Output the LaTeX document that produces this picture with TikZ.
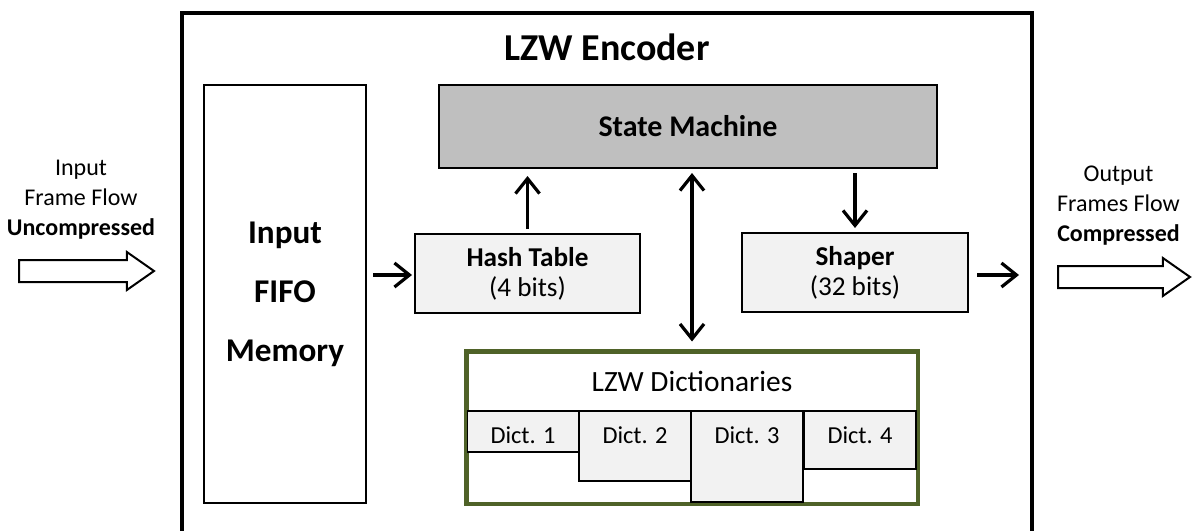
\documentclass[tikz,border=0pt]{standalone}
\usepackage{fontspec}
\setmainfont{Carlito}
\usetikzlibrary{arrows.meta,shapes.arrows}

\definecolor{smgray}{RGB}{191,191,191}
\definecolor{boxgray}{RGB}{242,242,242}
\definecolor{dictgreen}{RGB}{79,98,40}

\begin{document}
\begin{tikzpicture}[
        x=0.5pt, y=-0.5pt,
        block/.style={
            rectangle,
            draw,
            line width=1pt,
            align=center,
            inner sep=0pt
        },
        dictcell/.style={
            block,
            fill=boxgray,
            anchor=north,
            minimum width=56.25pt,
            text height=16pt,
            font=\fontsize{12.2}{14}\selectfont
        },
        flow/.style={
            -{Straight Barb[length=7.5pt,width=12pt]},
            line width=1.6pt
        },
        flowboth/.style={
            {Straight Barb[length=7.5pt,width=12pt]}-{Straight Barb[length=7.5pt,width=12pt]},
            line width=1.6pt
        },
        bigarrow/.style={
            single arrow,
            draw,
            line width=1pt,
            fill=white,
            anchor=tail,
            inner xsep=0pt,
            inner ysep=5pt,
            single arrow head extend=4pt,
            single arrow tip angle=70
        },
        sidetext/.style={
            align=center,
            font=\fontsize{12}{15}\selectfont
        }
    ]
        \useasboundingbox (0,0) rectangle (1193,530);

        % Encoder frame
        \draw[line width=2.2pt] (182,540) -- (182,13) -- (1032,13) -- (1032,540);
        \node[font=\fontsize{19}{22}\selectfont\bfseries] (title) at (607,47) {LZW Encoder};

        % Blocks
        \node[block, minimum width=81pt, minimum height=209pt,
            font=\fontsize{16.6}{29.5}\selectfont\bfseries] (fifo) at (285,294)
            {Input\\FIFO\\Memory};
        \node[block, fill=smgray, minimum width=249pt, minimum height=41.5pt,
            font=\fontsize{15}{18}\selectfont\bfseries] (sm) at (688,126.5) {State Machine};
        \node[block, fill=boxgray, minimum width=112.5pt, minimum height=39.5pt,
            font=\fontsize{13.6}{15}\selectfont] (hash) at (527.5,273.5)
            {\textbf{Hash Table}\\(4 bits)};
        \node[block, fill=boxgray, minimum width=113pt, minimum height=39.5pt,
            font=\fontsize{13.6}{15}\selectfont] (shaper) at (855,272.5)
            {\textbf{Shaper}\\(32 bits)};

        % Dictionaries
        \node[block, draw=dictgreen, line width=1.5pt, minimum width=225pt,
            minimum height=75.5pt] (dicts) at (692,427.5) {};
        \node[font=\fontsize{14.7}{17}\selectfont] (dtitle) at (692,381) {LZW Dictionaries};
        \node[dictcell, text depth=4.5pt] (d1) at (523,410) {Dict. 1};
        \node[dictcell, text depth=19pt] (d2) at (635,410) {Dict. 2};
        \node[dictcell, text depth=29.5pt] (d3) at (747,410) {Dict. 3};
        \node[dictcell, text depth=13pt] (d4) at (860,410) {Dict. 4};
        \draw[dictgreen, line width=1.5pt] (dicts.south west) rectangle (dicts.north east);

        % Internal connections
        \coordinate (outR) at (1032,275);
        \draw[flow, shorten <=3pt, shorten >=1pt] (fifo.east |- 0,275) -- (hash.west |- 0,275);
        \draw[flow, shorten <=2pt, shorten >=3.5pt] (hash.north) -- (hash.north |- sm.south);
        \draw[flowboth, shorten <=2pt, shorten >=4.5pt] (dicts.north |- sm.south) -- (dicts.north);
        \draw[flow, shorten <=2pt, shorten >=2pt] (shaper.north |- sm.south) -- (shaper.north);
        \draw[flow, shorten <=4pt, shorten >=6.5pt] (shaper.east |- outR) -- (outR);

        % Input and output flows
        \node[sidetext] (intext) at (81,200) {Input\\Frame Flow\\\textbf{Uncompressed}};
        \node[bigarrow, minimum height=67.5pt] (inarrow) at (18,271) {};
        \node[sidetext] (outtext) at (1118.5,206) {Output\\Frames Flow\\\textbf{Compressed}};
        \node[bigarrow, minimum height=66pt] (outarrow) at (1057,277) {};

    \end{tikzpicture}
\end{document}
